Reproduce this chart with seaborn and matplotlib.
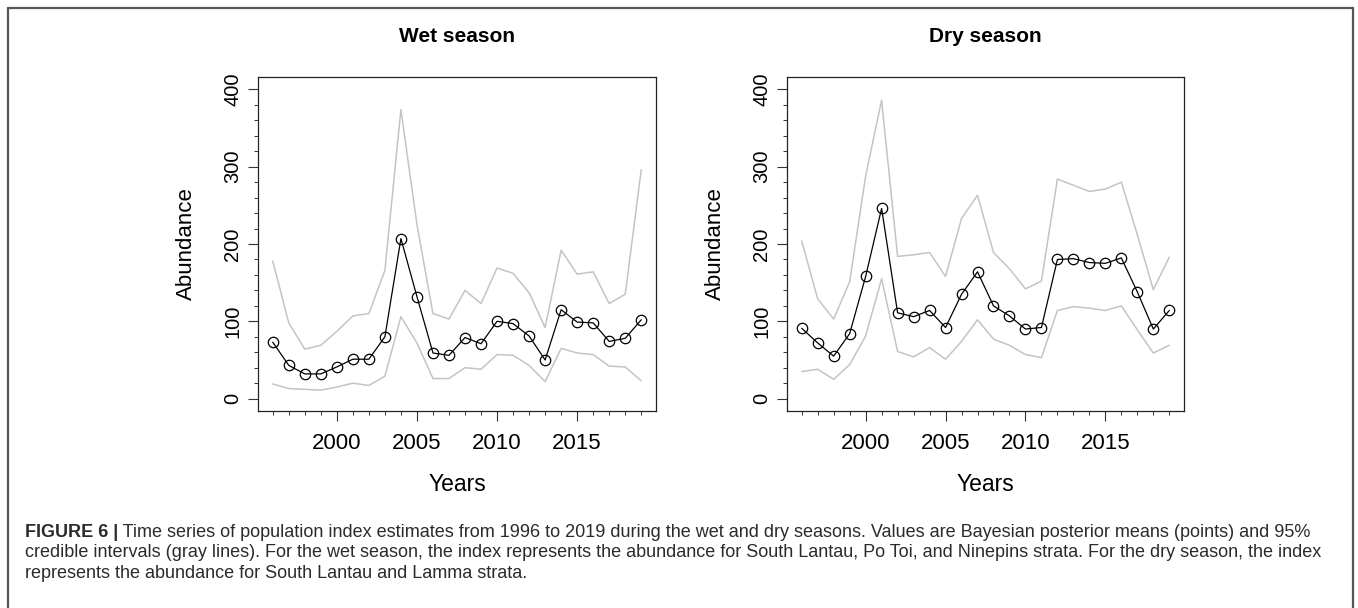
"""
Population index time series, wet and dry seasons (posterior means + 95% CrI)
"""
import matplotlib
matplotlib.use('Agg')
import matplotlib.pyplot as plt
import seaborn as sns
import pandas as pd
from matplotlib.lines import Line2D

# Data
years = [1996, 1997, 1998, 1999, 2000, 2001, 2002, 2003, 2004, 2005, 2006, 2007,
         2008, 2009, 2010, 2011, 2012, 2013, 2014, 2015, 2016, 2017, 2018, 2019]

wet_mean = [73, 43, 32, 32, 41, 51, 51, 80, 207, 132, 59, 56,
            79, 71, 100, 97, 81, 50, 115, 99, 98, 74, 78, 102]
wet_upper = [178, 98, 64, 69, 87, 107, 110, 166, 374, 225, 110, 103,
             140, 123, 169, 162, 137, 92, 192, 161, 164, 123, 135, 296]
wet_lower = [19, 13, 12, 11, 15, 20, 17, 29, 106, 72, 26, 26,
             40, 38, 57, 56, 43, 22, 65, 59, 57, 42, 41, 23]

dry_mean = [91, 72, 55, 84, 158, 246, 111, 106, 114, 92, 135, 164,
            120, 107, 90, 92, 180, 181, 176, 175, 182, 138, 90, 114]
dry_upper = [204, 129, 103, 151, 288, 386, 184, 186, 189, 158, 233, 263,
             189, 168, 142, 152, 284, 276, 268, 271, 280, 212, 141, 183]
dry_lower = [35, 38, 25, 44, 81, 155, 61, 54, 66, 51, 74, 102,
             77, 69, 57, 53, 114, 119, 117, 114, 120, 89, 59, 69]

titles = ['Wet season', 'Dry season']
major_years = [2000, 2005, 2010, 2015]
y_major = [0, 100, 200, 300, 400]
y_minor = [20, 40, 60, 80, 120, 140, 160, 180, 220, 240, 260, 280, 320, 340, 360, 380]

caption_bold = 'FIGURE 6 |'
caption_lines = [
    ' Time series of population index estimates from 1996 to 2019 during the wet and dry seasons. '
    'Values are Bayesian posterior means (points) and 95%',
    'credible intervals (gray lines). For the wet season, the index represents the abundance for '
    'South Lantau, Po Toi, and Ninepins strata. For the dry season, the index',
    'represents the abundance for South Lantau and Lamma strata.',
]

sns.set_style('white')
plt.rcParams['font.family'] = ['Liberation Sans', 'DejaVu Sans']
plt.rcParams['text.color'] = 'black'
plt.rcParams['axes.labelcolor'] = 'black'
plt.rcParams['xtick.color'] = 'black'
plt.rcParams['ytick.color'] = 'black'

W, H = 1358, 608
fig = plt.figure(figsize=(W / 100, H / 100), dpi=100)

# axes boxes in pixel coords (left, top, right, bottom)
boxes = [(258, 77, 656, 411), (787, 77, 1184, 411)]
series = [
    pd.DataFrame({'year': years, 'mean': wet_mean, 'upper': wet_upper, 'lower': wet_lower}),
    pd.DataFrame({'year': years, 'mean': dry_mean, 'upper': dry_upper, 'lower': dry_lower}),
]

for (l, t, r, b), df, title in zip(boxes, series, titles):
    ax = fig.add_axes([l / W, 1 - b / H, (r - l) / W, (b - t) / H])
    sns.lineplot(data=df, x='year', y='upper', ax=ax, color='#c4c4c4', linewidth=1.1)
    sns.lineplot(data=df, x='year', y='lower', ax=ax, color='#c4c4c4', linewidth=1.1)
    sns.lineplot(data=df, x='year', y='mean', ax=ax, color='black', linewidth=0.9,
                 marker='o', markersize=7.5, markerfacecolor='none',
                 markeredgecolor='black', markeredgewidth=0.9)

    ax.set_xlim(1996 - 0.92, 2019 + 0.92)
    ax.set_ylim(-16, 416)
    ax.set_xticks(major_years)
    ax.set_xticks(years, minor=True)
    ax.set_yticks(y_major)
    ax.set_yticks(y_minor, minor=True)
    ax.tick_params(axis='both', which='major', direction='out', length=7.5, width=0.8,
                   color='#333333', bottom=True, left=True)
    ax.tick_params(axis='both', which='minor', direction='out', length=3, width=0.7,
                   color='#333333', bottom=True, left=True)
    ax.tick_params(axis='x', which='major', labelsize=16, pad=8)
    ax.tick_params(axis='y', which='major', labelsize=14.5, pad=4)
    for lab in ax.get_yticklabels():
        lab.set_rotation(90)
        lab.set_va('center')
    for sp in ax.spines.values():
        sp.set_visible(True)
        sp.set_color('#222222')
        sp.set_linewidth(0.9)

    ax.set_xlabel('Years', fontsize=16.5, labelpad=14)
    ax.set_ylabel('Abundance', fontsize=16, labelpad=19)
    ax.set_title(title, fontsize=15, fontweight='bold', pad=25)

# outer frame (open at the bottom)
frame_kw = dict(color='#555555', linewidth=1.6, transform=fig.transFigure)
fig.add_artist(Line2D([8 / W, 8 / W], [0, 1 - 8 / H], **frame_kw))
fig.add_artist(Line2D([1353 / W, 1353 / W], [0, 1 - 8 / H], **frame_kw))
fig.add_artist(Line2D([8 / W, 1353 / W], [1 - 8 / H, 1 - 8 / H], **frame_kw))

# caption
cap_kw = dict(fontsize=13, color='#2b2b2b', va='baseline', ha='left')
x0 = 25 / W
baselines = [537, 557, 578]
bold = fig.text(x0, 1 - baselines[0] / H, caption_bold, fontweight='bold', **cap_kw)
renderer = fig.canvas.get_renderer()
bb = bold.get_window_extent(renderer=renderer)
fig.text(bb.x1 / W, 1 - baselines[0] / H, caption_lines[0], **cap_kw)
for yb, line in zip(baselines[1:], caption_lines[1:]):
    fig.text(x0, 1 - yb / H, line, **cap_kw)

fig.savefig('out.png', dpi=100)
plt.close(fig)
